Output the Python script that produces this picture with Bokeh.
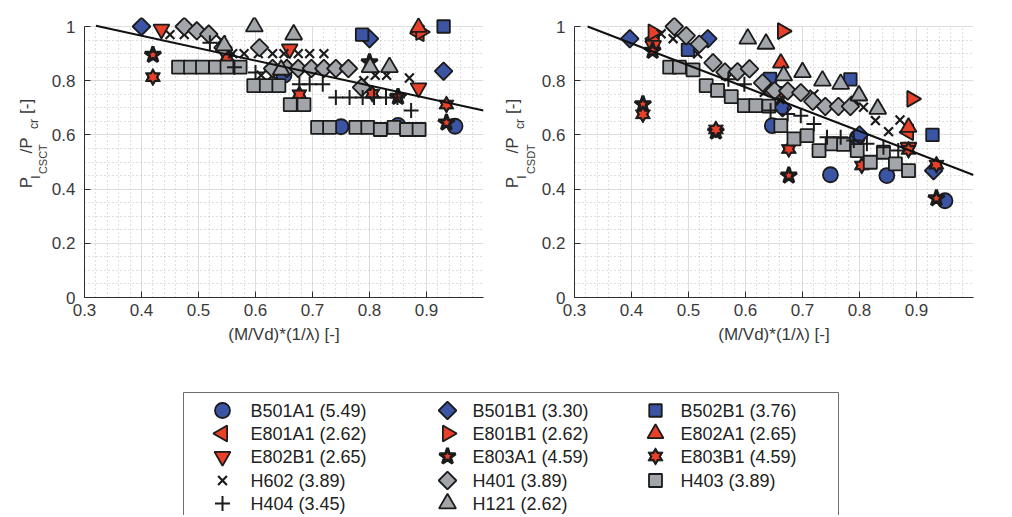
import math
from bokeh.plotting import figure
from bokeh.layouts import row, column
from bokeh.models import Range1d, FixedTicker, CustomJSTickFormatter
from bokeh.core.properties import value
from bokeh.embed import file_html
from bokeh.resources import INLINE

# ---------------- data: left panel (P_I,CSCT / P_cr) ----------------
B501A1_L_x = [0.65, 0.75, 0.85, 0.95]
B501A1_L_y = [0.82, 0.63, 0.635, 0.632]
B501B1_L_x = [0.40, 0.80, 0.93]
B501B1_L_y = [1.0, 0.955, 0.835]
B502B1_L_x = [0.787, 0.93]
B502B1_L_y = [0.97, 1.0]
E801A1_L_x = [0.887]
E801A1_L_y = [0.975]
E801B1_L_x = [0.89]
E801B1_L_y = [0.98]
E802A1_L_x = [0.886]
E802A1_L_y = [0.997]
E802B1_L_x = [0.435, 0.66, 0.886]
E802B1_L_y = [0.99, 0.917, 0.773]
E803A1_L_x = [0.42, 0.80, 0.85, 0.935]
E803A1_L_y = [0.895, 0.868, 0.74, 0.645]
E803B1_L_x = [0.42, 0.55, 0.677, 0.805, 0.935]
E803B1_L_y = [0.813, 0.887, 0.75, 0.752, 0.712]
H602_L_x = [0.45, 0.475, 0.54, 0.56, 0.58, 0.605, 0.63, 0.65, 0.675, 0.695, 0.72, 0.61, 0.63, 0.79, 0.81, 0.83, 0.87]
H602_L_y = [0.97, 0.97, 0.95, 0.90, 0.90, 0.90, 0.90, 0.90, 0.90, 0.90, 0.90, 0.82, 0.82, 0.80, 0.82, 0.82, 0.81]
H401_L_x = [0.475, 0.497, 0.518, 0.543, 0.607, 0.63, 0.655, 0.675, 0.698, 0.72, 0.741, 0.763, 0.786]
H401_L_y = [1.0, 0.984, 0.972, 0.922, 0.922, 0.845, 0.845, 0.845, 0.845, 0.845, 0.845, 0.845, 0.775]
H403_L_x = [0.465, 0.486, 0.507, 0.53, 0.55, 0.573, 0.597, 0.619, 0.641, 0.661, 0.685, 0.709, 0.73, 0.776, 0.797, 0.819, 0.843, 0.865, 0.887]
H403_L_y = [0.85, 0.85, 0.85, 0.85, 0.85, 0.85, 0.782, 0.782, 0.782, 0.712, 0.712, 0.628, 0.628, 0.628, 0.628, 0.62, 0.628, 0.62, 0.62]
H404_L_x = [0.52, 0.563, 0.60, 0.677, 0.695, 0.718, 0.741, 0.765, 0.788, 0.808, 0.829, 0.849, 0.873]
H404_L_y = [0.94, 0.85, 0.83, 0.787, 0.787, 0.787, 0.738, 0.738, 0.738, 0.738, 0.738, 0.738, 0.69]
H121_L_x = [0.545, 0.598, 0.667, 0.645, 0.801, 0.835]
H121_L_y = [0.93, 1.0, 0.97, 0.84, 0.85, 0.85]
FIT_L_x = [0.32, 1.0]
FIT_L_y = [1.003, 0.69]

# ---------------- data: right panel (P_I,CSDT / P_cr) ----------------
B501A1_R_x = [0.647, 0.749, 0.848, 0.95, 0.796]
B501A1_R_y = [0.634, 0.453, 0.45, 0.357, 0.59]
B501B1_R_x = [0.397, 0.534, 0.665, 0.80, 0.93]
B501B1_R_y = [0.955, 0.955, 0.70, 0.60, 0.468]
B502B1_R_x = [0.499, 0.643, 0.784, 0.928]
B502B1_R_y = [0.914, 0.807, 0.805, 0.60]
E801A1_R_x = [0.44, 0.886]
E801A1_R_y = [0.955, 0.61]
E801B1_R_x = [0.438, 0.665, 0.892]
E801B1_R_y = [0.979, 0.983, 0.733]
E802A1_R_x = [0.662, 0.886]
E802A1_R_y = [0.865, 0.628]
E802B1_R_x = [0.438, 0.665, 0.886]
E802B1_R_y = [0.93, 0.76, 0.554]
E803A1_R_x = [0.437, 0.42, 0.548, 0.676, 0.935]
E803A1_R_y = [0.91, 0.713, 0.612, 0.45, 0.366]
E803B1_R_x = [0.42, 0.548, 0.676, 0.804, 0.935, 0.886]
E803B1_R_y = [0.676, 0.62, 0.548, 0.487, 0.49, 0.545]
H602_R_x = [0.452, 0.473, 0.516, 0.633, 0.66, 0.72, 0.792, 0.807, 0.828, 0.851, 0.871]
H602_R_y = [0.973, 0.955, 0.899, 0.757, 0.73, 0.75, 0.727, 0.702, 0.653, 0.612, 0.655]
H401_R_x = [0.475, 0.496, 0.519, 0.543, 0.564, 0.586, 0.607, 0.63, 0.651, 0.674, 0.697, 0.718, 0.74, 0.763, 0.784]
H401_R_y = [1.0, 0.966, 0.935, 0.866, 0.832, 0.833, 0.844, 0.792, 0.763, 0.762, 0.756, 0.724, 0.705, 0.705, 0.705]
H403_R_x = [0.467, 0.484, 0.508, 0.531, 0.551, 0.575, 0.598, 0.618, 0.641, 0.662, 0.685, 0.708, 0.729, 0.752, 0.772, 0.796, 0.819, 0.842, 0.863, 0.886]
H403_R_y = [0.85, 0.85, 0.84, 0.782, 0.764, 0.741, 0.708, 0.708, 0.706, 0.634, 0.585, 0.597, 0.542, 0.567, 0.565, 0.542, 0.499, 0.536, 0.493, 0.468]
H404_R_x = [0.57, 0.598, 0.644, 0.674, 0.697, 0.72, 0.743, 0.767, 0.79, 0.813, 0.842, 0.868]
H404_R_y = [0.805, 0.787, 0.69, 0.677, 0.671, 0.64, 0.591, 0.591, 0.579, 0.567, 0.554, 0.542]
H121_R_x = [0.604, 0.636, 0.667, 0.70, 0.735, 0.767, 0.799, 0.832]
H121_R_y = [0.955, 0.936, 0.819, 0.831, 0.80, 0.788, 0.745, 0.696]
FIT_R_x = [0.323, 1.0]
FIT_R_y = [1.0, 0.452]

SERIES = ["B501A1", "B501B1", "B502B1", "E801A1", "E801B1", "E802A1", "E802B1",
          "E803A1", "E803B1", "H602", "H401", "H403", "H404", "H121"]
LEGEND_LABELS = ["B501A1 (5.49)", "B501B1 (3.30)", "B502B1 (3.76)",
                 "E801A1 (2.62)", "E801B1 (2.62)", "E802A1 (2.65)",
                 "E802B1 (2.65)", "E803A1 (4.59)", "E803B1 (4.59)",
                 "H602 (3.89)", "H401 (3.89)", "H403 (3.89)",
                 "H404 (3.45)", "H121 (2.62)"]
X_TICKS = [0.3, 0.4, 0.5, 0.6, 0.7, 0.8, 0.9]
Y_TICKS = [0.0, 0.2, 0.4, 0.6, 0.8, 1.0]
X_LABEL = "(M/Vd)*(1/\u03bb) [-]"

LEFT = {s: (globals()[s + "_L_x"], globals()[s + "_L_y"]) for s in SERIES}
RIGHT = {s: (globals()[s + "_R_x"], globals()[s + "_R_y"]) for s in SERIES}

# ---------------- styles ----------------
BLUE = "#3b55a4"
RED = "#e9402a"
GRAY = "#a2a6aa"
EDGE = "#1b1b1b"
TXT = "#3a3a3a"
FONT = "Liberation Sans"
Q = math.pi / 4
STYLE = {
    "B501A1": dict(marker="circle", fill=BLUE, size=15, angle=0, lw=1.8),
    "B501B1": dict(marker="square", fill=BLUE, size=12.5, angle=Q, lw=1.8),
    "B502B1": dict(marker="square", fill=BLUE, size=12.5, angle=0, lw=1.8),
    "E801A1": dict(marker="triangle", fill=RED, size=16, angle=math.pi / 2, lw=1.8),
    "E801B1": dict(marker="triangle", fill=RED, size=16, angle=-math.pi / 2, lw=1.8),
    "E802A1": dict(marker="triangle", fill=RED, size=16, angle=0, lw=1.8),
    "E802B1": dict(marker="inverted_triangle", fill=RED, size=16, angle=0, lw=1.8),
    "E803A1": dict(marker="star", fill=RED, size=17, angle=0, lw=3),
    "E803B1": dict(marker="hexagram", fill=RED, size=15, angle=0, lw=1),
    "H602": dict(marker="x", fill=None, size=12.5, angle=0, lw=2.2),
    "H401": dict(marker="square", fill=GRAY, size=12.5, angle=Q, lw=1.8),
    "H403": dict(marker="square", fill=GRAY, size=13, angle=0, lw=1.8),
    "H404": dict(marker="cross", fill=None, size=15, angle=0, lw=2),
    "H121": dict(marker="triangle", fill=GRAY, size=17, angle=0, lw=1.8),
}


def draw(p, xs, ys, key):
    st = STYLE[key]
    m = st["marker"]
    if m == "hexagram":
        for mk in ("triangle", "inverted_triangle"):
            p.scatter(xs, ys, marker=mk, size=st["size"], fill_color=EDGE, line_color=EDGE, line_width=1)
        for mk in ("triangle", "inverted_triangle"):
            p.scatter(xs, ys, marker=mk, size=st["size"] - 6, fill_color=st["fill"], line_color=None)
    elif m in ("x", "cross"):
        p.scatter(xs, ys, marker=m, size=st["size"], line_color=EDGE, line_width=st["lw"])
    else:
        p.scatter(xs, ys, marker=m, size=st["size"], angle=st["angle"], fill_color=st["fill"],
                  line_color=EDGE, line_width=st["lw"])


FMT = CustomJSTickFormatter(code="return (Math.round(tick*10)/10).toString();")
YMAX = 280 / 271.0
XGRID = [round(0.3 + 0.1 * i, 2) for i in range(8)]
XMINOR = [round(0.3 + 0.02 * i, 2) for i in range(36)]
YGRID = [round(0.2 * i, 2) for i in range(6)]
YMINOR = [round(0.05 * i, 2) for i in range(21)]
PLOT_H = 354
LEG_H = 161


def make_plot(data, fit_x, fit_y):
    p = figure(width=450, height=PLOT_H, x_range=Range1d(0.3, 1.0), y_range=Range1d(0, YMAX),
               output_backend="svg", toolbar_location=None,
               min_border_left=35, min_border_right=15, min_border_top=17, min_border_bottom=57,
               background_fill_color="white", border_fill_color="white", outline_line_color=None)
    for ax, ticks in ((p.xaxis, X_TICKS), (p.yaxis, Y_TICKS)):
        ax.ticker = FixedTicker(ticks=ticks)
        ax.formatter = FMT
        ax.major_tick_in = 6
        ax.major_tick_out = 0
        ax.minor_tick_line_color = None
        ax.axis_line_color = "#2e2e2e"
        ax.major_tick_line_color = "#2e2e2e"
        ax.major_label_text_font = FONT
        ax.major_label_text_font_size = "17px"
        ax.major_label_text_color = TXT
    p.yaxis.bounds = (0, 1)
    p.yaxis.major_label_standoff = 9
    p.xaxis.major_label_standoff = 6
    p.xaxis.axis_label = X_LABEL
    p.xaxis.axis_label_text_font = FONT
    p.xaxis.axis_label_text_font_size = "17px"
    p.xaxis.axis_label_text_font_style = "normal"
    p.xaxis.axis_label_text_color = TXT
    p.xaxis.axis_label_standoff = 6
    p.xgrid.ticker = FixedTicker(ticks=XGRID, minor_ticks=XMINOR)
    p.ygrid.ticker = FixedTicker(ticks=YGRID, minor_ticks=YMINOR)
    for g in (p.xgrid, p.ygrid):
        g.grid_line_color = "#dedede"
        g.minor_grid_line_color = "#bdbdbd"
        g.minor_grid_line_dash = "1 3"
    # mask grid above y = 1
    p.quad(left=[0.3], right=[1.0], bottom=[1.002], top=[YMAX], fill_color="white", line_color=None)
    for s in SERIES:
        xs, ys = data[s]
        draw(p, xs, ys, s)
    p.line(fit_x, fit_y, line_color="#111111", line_width=2)
    return p


# y-axis label pieces (rotated text) -- screen coordinates
YL_TEXT_L = ["P", "I", "CSCT", "/P", "cr", "[-]"]
YL_TEXT_R = ["P", "I", "CSDT", "/P", "cr", "[-]"]
YL_SIZE = ["17px", "12px", "11px", "17px", "12px", "17px"]
YL_X_L = [26, 35, 42, 26, 33, 26]
YL_X_R = [512, 521, 530, 512, 519, 512]
YL_Y = [216, 204, 198, 172, 141, 122]


def make_label(x0, x1, xs, texts):
    p = figure(width=x1 - x0, height=PLOT_H, x_range=Range1d(x0, x1), y_range=Range1d(0, PLOT_H),
               output_backend="svg", toolbar_location=None, x_axis_location=None, y_axis_location=None,
               min_border=0, outline_line_color=None, background_fill_color="white",
               border_fill_color="white")
    p.grid.visible = False
    p.text(x=xs, y=[PLOT_H - y for y in YL_Y], text=texts, angle=math.pi / 2,
           text_font=value(FONT), text_font_size=YL_SIZE, text_color=TXT,
           text_align="left", text_baseline="alphabetic")
    return p


# legend panel layout (screen coordinates)
LEG_MX = [222, 447, 655]
LEG_TX = [250, 472, 680]
LEG_RY = [410, 433, 456, 480, 503]


def make_legend():
    y0 = PLOT_H + LEG_H
    p = figure(width=988, height=LEG_H, x_range=Range1d(0, 988), y_range=Range1d(0, LEG_H),
               output_backend="svg", toolbar_location=None, x_axis_location=None, y_axis_location=None,
               min_border=0, outline_line_color=None, background_fill_color="white",
               border_fill_color="white")
    p.grid.visible = False
    p.quad(left=[183], right=[838], top=[y0 - 392], bottom=[-30], fill_color="white",
           line_color="#6e6e6e", line_width=1)
    tx, ty = [], []
    for i, s in enumerate(SERIES):
        r, c = divmod(i, 3)
        y = y0 - LEG_RY[r]
        draw(p, [LEG_MX[c]], [y], s)
        tx.append(LEG_TX[c])
        ty.append(y)
    p.text(x=tx, y=ty, text=LEGEND_LABELS, text_font=value(FONT), text_font_size=value("18px"),
           text_color="#222222", text_align="left", text_baseline="middle")
    return p


left = make_plot(LEFT, FIT_L_x, FIT_L_y)
right = make_plot(RIGHT, FIT_R_x, FIT_R_y)
lab_l = make_label(0, 48, YL_X_L, YL_TEXT_L)
lab_r = make_label(498, 538, YL_X_R, YL_TEXT_R)
leg = make_legend()

layout = column(row(lab_l, left, lab_r, right, spacing=0), leg, spacing=0)
open("out.html", "w").write(file_html(layout, INLINE))
